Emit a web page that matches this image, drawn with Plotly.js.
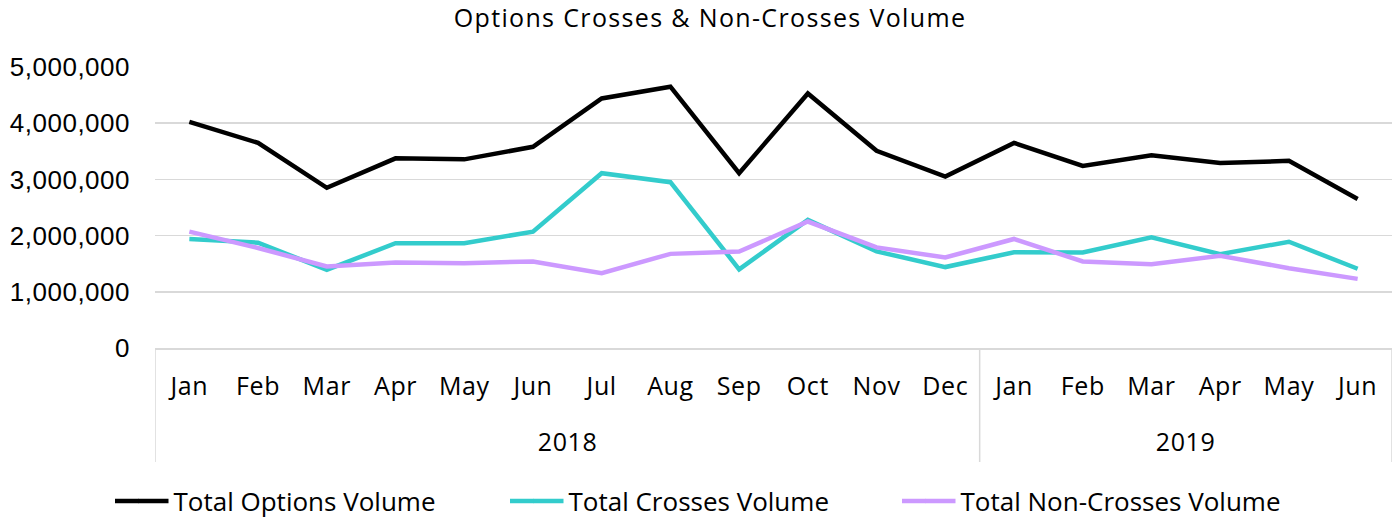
<!DOCTYPE html>
<html>
<head>
<meta charset="utf-8">
<script src="https://cdn.plot.ly/plotly-3.0.1.min.js"></script>
<style>
html,body{margin:0;padding:0;background:#fff;}
#chart{width:1393px;height:518px;}
#chart .gtitle{letter-spacing:1.35px;}
#chart .xtick text, #chart .annotation-text{letter-spacing:0.6px;}
#chart .ytick text{letter-spacing:0.5px;}
</style>
</head>
<body>
<div id="chart"></div>
<script>
const years = ["2018","2018","2018","2018","2018","2018","2018","2018","2018","2018","2018","2018","2019","2019","2019","2019","2019","2019"];
const months = ["Jan","Feb","Mar","Apr","May","Jun","Jul","Aug","Sep","Oct","Nov","Dec","Jan","Feb","Mar","Apr","May","Jun"];
const totalOptions = [4025000,3650000,2850000,3375000,3357000,3580000,4440000,4650000,3110000,4530000,3510000,3050000,3650000,3240000,3430000,3290000,3330000,2650000];
const totalCrosses = [1940000,1875000,1390000,1865000,1865000,2070000,3110000,2950000,1400000,2280000,1720000,1440000,1705000,1700000,1970000,1670000,1890000,1410000];
const totalNonCrosses = [2070000,1780000,1450000,1520000,1510000,1540000,1330000,1675000,1715000,2250000,1790000,1610000,1940000,1540000,1490000,1640000,1420000,1230000];
const yTickVals = [0,1000000,2000000,3000000,4000000,5000000];
const yTickText = ["0","1,000,000","2,000,000","3,000,000","4,000,000","5,000,000"];

const FONT = '"Open Sans", "Noto Sans", sans-serif';
const YFONT = '"Liberation Sans", Arial, sans-serif';
const GRID = '#d9d9d9';
const COLORS = ['#000000', '#33CCCC', '#CC99FF'];

// category positions from the month list
const idx = months.map((m, i) => i);
const uniqueYears = [...new Set(years)];
const groupCenters = uniqueYears.map(y => {
  const ii = idx.filter(i => years[i] === y);
  return (ii[0] + ii[ii.length - 1]) / 2;
});
const groupBounds = [-0.5];
uniqueYears.forEach(y => {
  const ii = idx.filter(i => years[i] === y);
  groupBounds.push(ii[ii.length - 1] + 0.5);
});

const W = 1393, H = 518;
const plotLeftPx = 155, plotRightPx = 1392, plotTopPx = 67, plotBottomPx = 348;
const plotW = plotRightPx - plotLeftPx, plotH = plotBottomPx - plotTopPx;
function paperY(px){ return (plotBottomPx - px) / plotH; }
function paperX(px){ return (px - plotLeftPx) / plotW; }

// legend layout: left edge of each entry's text and start of its key line (pixels)
const legendTextStart = [175, 570, 962];
const legendLineStart = [115, 510, 902];
const legendLineY = 501;

function tr(name, y, k){
  return {type:'scatter', mode:'lines', name:name, x:idx, y:y,
    line:{color:COLORS[k], width:4.5}, hoverinfo:'skip',
    legend: k === 0 ? 'legend' : 'legend' + (k + 1)};
}
const data = [
  tr('Total Options Volume', totalOptions, 0),
  tr('Total Crosses Volume', totalCrosses, 1),
  tr('Total Non-Crosses Volume', totalNonCrosses, 2)
];

const legendBase = {orientation:'h', xref:'container', yref:'container', xanchor:'left',
  y:1 - legendLineY / H, yanchor:'middle',
  font:{family:FONT, size:26, color:'#000'}, bgcolor:'rgba(0,0,0,0)', itemwidth:30, tracegroupgap:0};

const shapes = groupBounds.map(b => ({type:'line', xref:'x', yref:'paper', x0:b, x1:b, y0:0, y1:paperY(462),
  line:{color:GRID, width:1.5}, layer:'below'}));
// lengthen the legend key lines to match the reference key length
legendTextStart.forEach((t, k) => {
  shapes.push({type:'line', xref:'paper', yref:'paper', x0:paperX(legendLineStart[k]), x1:paperX(t - 36),
    y0:paperY(legendLineY), y1:paperY(legendLineY), line:{color:COLORS[k], width:4.5}, layer:'above'});
});
const annotations = uniqueYears.map((y, k) => ({xref:'x', yref:'paper', x:groupCenters[k], y:paperY(441),
  text:y, showarrow:false, xanchor:'center', yanchor:'middle', font:{family:FONT, size:25, color:'#000'}}));

const layout = {
  width:W, height:H,
  margin:{l:plotLeftPx, r:W - plotRightPx, t:plotTopPx, b:H - plotBottomPx, autoexpand:false},
  paper_bgcolor:'#fff', plot_bgcolor:'#fff',
  font:{family:FONT, size:25, color:'#000'},
  title:{text:'Options Crosses & Non-Crosses Volume', x:710 / W, xanchor:'center', y:1 - 18/H, yanchor:'middle',
    font:{family:FONT, size:25, color:'#000'}},
  showlegend:true,
  legend:Object.assign({}, legendBase, {x:(legendTextStart[0] - 41.5) / W}),
  legend2:Object.assign({}, legendBase, {x:(legendTextStart[1] - 41.5) / W}),
  legend3:Object.assign({}, legendBase, {x:(legendTextStart[2] - 41.5) / W}),
  shapes:shapes,
  annotations:annotations,
  xaxis:{range:[-0.5, 17.5], tickmode:'array', tickvals:idx, ticktext:months, showgrid:false,
    zeroline:false, showline:true, linecolor:GRID, linewidth:1.5,
    ticks:'outside', ticklen:15, tickcolor:'rgba(0,0,0,0)',
    tickfont:{family:FONT, size:25, color:'#000'}, tickangle:0},
  yaxis:{range:[0,5000000], tickvals:yTickVals, ticktext:yTickText, showgrid:true, gridcolor:GRID, gridwidth:1.5,
    zeroline:false, showline:false, ticklabelstandoff:24,
    tickfont:{family:YFONT, size:26, color:'#000'}}
};
Plotly.newPlot('chart', data, layout, {staticPlot:true, displayModeBar:false});
</script>
</body>
</html>
